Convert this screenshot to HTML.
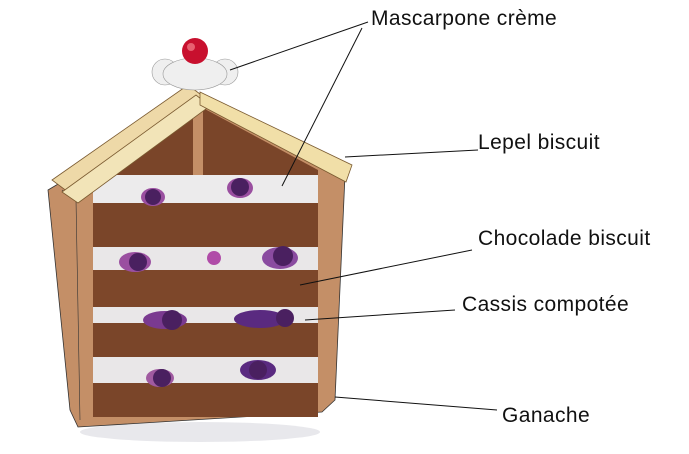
<!DOCTYPE html>
<html><head><style>
html,body{margin:0;padding:0;background:#fff;width:689px;height:454px;overflow:hidden}
svg{display:block}
text{font-family:"Liberation Sans",sans-serif;font-size:21px;letter-spacing:0.4px;fill:#111}
</style></head><body>
<svg width="689" height="454" viewBox="0 0 689 454">
<ellipse cx="200" cy="432" rx="120" ry="10" fill="#d8d8e0" opacity="0.6"/>
<path d="M48 190 L200 100 L345 175 L335 400 L322 412 L78 427 L70 410 Z" fill="#c48f67" stroke="#333" stroke-width="0.8"/>
<path d="M62 190 L76 200 L80 420" fill="none" stroke="#333" stroke-width="0.6"/>
<rect x="93" y="175" width="225" height="242" fill="#e9e7e8"/>
<path d="M93 178 L193 108 L193 178 Z" fill="#7a4529"/>
<path d="M203 108 L318 170 L318 178 L203 178 Z" fill="#7a4529"/>
<rect x="93" y="175" width="225" height="28" fill="#ecebec"/>
<rect x="93" y="203" width="225" height="44" fill="#7a4529"/>
<rect x="93" y="270" width="225" height="37" fill="#7d472a"/>
<rect x="93" y="323" width="225" height="34" fill="#7a4529"/>
<rect x="93" y="383" width="225" height="34" fill="#7a4529"/>
<g fill="#4a2060">
<ellipse cx="153" cy="197" rx="12" ry="9" fill="#9a4fa0"/><circle cx="153" cy="197" r="8"/>
<ellipse cx="240" cy="188" rx="13" ry="10" fill="#9a4fa0"/><circle cx="240" cy="187" r="9"/>
<ellipse cx="135" cy="262" rx="16" ry="10" fill="#9a4fa0"/><circle cx="138" cy="262" r="9"/>
<circle cx="214" cy="258" r="7" fill="#b04ca8"/>
<ellipse cx="280" cy="258" rx="18" ry="11" fill="#8a4ba0"/><circle cx="283" cy="256" r="10"/>
<ellipse cx="165" cy="320" rx="22" ry="9" fill="#7a3a90"/><circle cx="172" cy="320" r="10"/>
<ellipse cx="260" cy="319" rx="26" ry="9" fill="#5a2a80"/><circle cx="285" cy="318" r="9"/>
<ellipse cx="160" cy="378" rx="14" ry="9" fill="#a05aa0"/><circle cx="162" cy="378" r="9"/>
<ellipse cx="258" cy="370" rx="18" ry="10" fill="#5a2a80"/><circle cx="258" cy="370" r="9"/>
</g>
<path d="M52 180 L188 85 L208 100 L72 195 Z" fill="#eed9a8" stroke="#7a5a30" stroke-width="0.8"/>
<path d="M62 192 L196 95 L210 106 L78 203 Z" fill="#f2e4b8" stroke="#7a5a30" stroke-width="0.8"/>
<path d="M200 92 L352 165 L346 182 L200 105 Z" fill="#f1dfa8" stroke="#7a5a30" stroke-width="0.8"/>
<g fill="#efefef" stroke="#999" stroke-width="0.6">
<circle cx="165" cy="72" r="13"/><circle cx="225" cy="72" r="13"/>
<ellipse cx="195" cy="74" rx="32" ry="16"/>
</g>
<circle cx="195" cy="51" r="13" fill="#c8102e"/>
<circle cx="191" cy="47" r="4" fill="#e86070"/>
<g stroke="#111" stroke-width="1" fill="none">
<path d="M368 22 L230 70"/>
<path d="M362 28 L282 186"/>
<path d="M478 150 L345 157"/>
<path d="M472 250 L300 285"/>
<path d="M455 310 L305 320"/>
<path d="M497 410 L335 397"/>
</g>
<text x="371" y="25">Mascarpone crème</text>
<text x="478" y="149">Lepel biscuit</text>
<text x="478" y="245">Chocolade biscuit</text>
<text x="462" y="311">Cassis compotée</text>
<text x="502" y="422">Ganache</text>
</svg>
</body></html>
